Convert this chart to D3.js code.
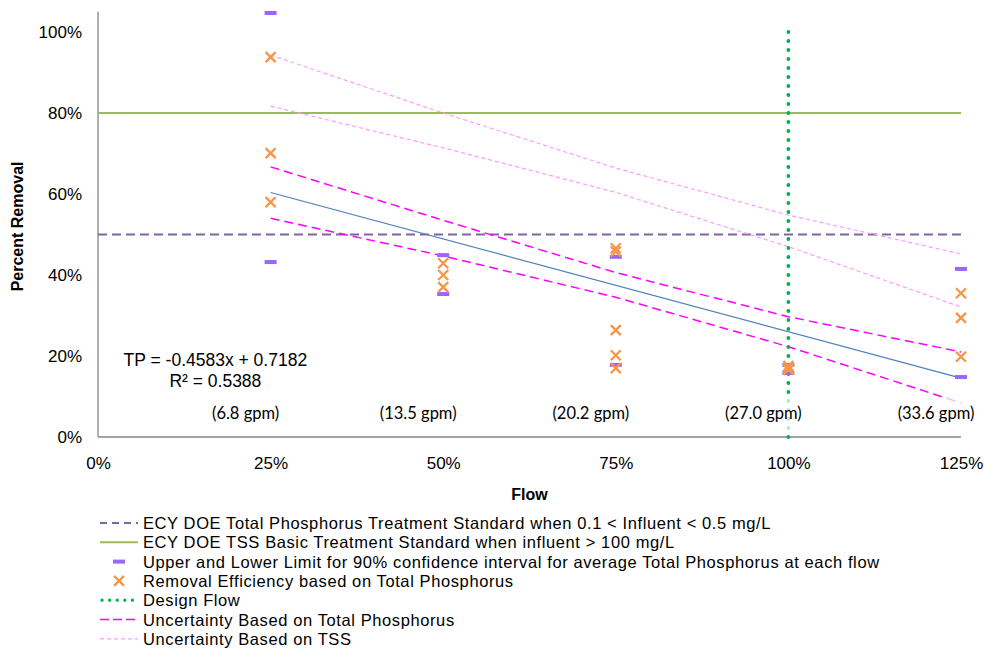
<!DOCTYPE html>
<html><head><meta charset="utf-8">
<script src="https://cdn.jsdelivr.net/npm/d3@7"></script>
<style>
body{margin:0;background:#fff;}
text{font-family:Arial,"Liberation Sans",sans-serif;fill:#000;}
</style></head>
<body><svg id="c" width="984" height="650"></svg>
<script>
// ---- data ----
const flows = [0.25, 0.5, 0.75, 1.0, 1.25];
const gpmLabels = ["(6.8 gpm)", "(13.5 gpm)", "(20.2 gpm)", "(27.0 gpm)", "(33.6 gpm)"];
const xTicks = [0, 0.25, 0.5, 0.75, 1.0, 1.25];
const yTicks = [0, 0.2, 0.4, 0.6, 0.8, 1.0];
const removalFlow = [0.25,0.25,0.25, 0.5,0.5,0.5, 0.75,0.75,0.75,0.75,0.75, 1,1,1, 1.25,1.25,1.25];
const removalTP   = [0.938,0.701,0.580, 0.429,0.400,0.370, 0.466,0.458,0.264,0.202,0.170, 0.175,0.170,0.166, 0.355,0.294,0.198];
const upperLimit = [1.047, 0.449, 0.445, 0.178, 0.415];
const lowerLimit = [0.432, 0.353, 0.178, 0.158, 0.148];
const tpUncUpper = [0.667, 0.535, 0.406, 0.297, 0.210];
const tpUncLower = [0.540, 0.447, 0.345, 0.223, 0.084];
const tssUncUpper = [0.943, 0.800, 0.664, 0.548, 0.452];
const tssUncLower = [0.817, 0.714, 0.604, 0.470, 0.321];
const trendSlope = -0.4583, trendIntercept = 0.7182, trendR2 = 0.5388;
const tpStandard = 0.5, tssStandard = 0.8, designFlow = 1.0;
const legendLabels = [
  "ECY DOE Total Phosphorus Treatment Standard when 0.1 < Influent < 0.5 mg/L",
  "ECY DOE TSS Basic Treatment Standard when influent > 100 mg/L",
  "Upper and Lower Limit for 90% confidence interval for average Total Phosphorus at each flow",
  "Removal Efficiency based on Total Phosphorus",
  "Design Flow",
  "Uncertainty Based on Total Phosphorus",
  "Uncertainty Based on TSS"
];

// ---- drawing ----
const svg = d3.select("#c");
const x = d3.scaleLinear().domain([0, 1.25]).range([98, 961]);
const y = d3.scaleLinear().domain([0, 1]).range([437, 32]);
const yTop = 1.05;
const pct = d3.format(".0%");

const C = {
  tpStd: "#8064A2", tssStd: "#9BBB59", bar: "#9966FF", xm: "#F79646",
  design: "#00B050", tpUnc: "#FF00FF", tssUnc: "#FF99FF", trend: "#4F81BD", axis: "#868686"
};

// axes
const yAxis = d3.axisLeft(y).tickValues(yTicks).tickFormat(pct).tickSize(0).tickPadding(16);
const gy = svg.append("g").attr("transform", `translate(${x(0)},0)`).call(yAxis);
gy.select(".domain").remove();
gy.selectAll("text").style("font-size", "17px").attr("font-family", "Arial");
const xAxis = d3.axisBottom(x).tickValues(xTicks).tickFormat(pct).tickSize(0).tickPadding(20);
const gx = svg.append("g").attr("transform", `translate(0,${y(0)})`).call(xAxis);
gx.select(".domain").remove();
gx.selectAll("text").style("font-size", "17px");

svg.append("line").attr("x1", x(0)).attr("x2", x(0)).attr("y1", y(yTop)).attr("y2", y(0))
  .attr("stroke", C.axis).attr("stroke-width", 1.3);
svg.append("line").attr("x1", x(0)).attr("x2", x(1.25)).attr("y1", y(0)).attr("y2", y(0))
  .attr("stroke", C.axis).attr("stroke-width", 1.3);

svg.append("text").attr("transform", `translate(23,${y(0.52)}) rotate(-90)`)
  .attr("text-anchor", "middle").style("font-size", "16px").style("font-weight", "bold").text("Percent Removal");
svg.append("text").attr("x", x(0.625) + 0).attr("y", 500).attr("text-anchor", "middle")
  .style("font-size", "16px").style("font-weight", "bold").text("Flow");

// horizontal standards
svg.append("line").attr("x1", x(0)).attr("x2", x(1.25)).attr("y1", y(tssStandard)).attr("y2", y(tssStandard))
  .attr("stroke", C.tssStd).attr("stroke-width", 2);
svg.append("line").attr("x1", x(0)).attr("x2", x(1.25)).attr("y1", y(tpStandard)).attr("y2", y(tpStandard))
  .attr("stroke", C.tpStd).attr("stroke-width", 1.8).attr("stroke-dasharray", "9,5");

// uncertainty bands
const line = d3.line().x(d => x(d[0])).y(d => y(d[1]));
const z = arr => flows.map((f, i) => [f, arr[i]]);
[[tssUncUpper, C.tssUnc, 1.2, "4,3"], [tssUncLower, C.tssUnc, 1.2, "4,3"],
 [tpUncUpper, C.tpUnc, 1.5, "9,5"], [tpUncLower, C.tpUnc, 1.5, "9,5"]].forEach(([arr, col, w, da]) => {
  svg.append("path").attr("d", line(z(arr))).attr("fill", "none")
    .attr("stroke", col).attr("stroke-width", w).attr("stroke-dasharray", da);
});

// trend line
svg.append("path").attr("d", line([flows[0], flows[flows.length - 1]].map(f => [f, trendSlope * f + trendIntercept])))
  .attr("fill", "none").attr("stroke", C.trend).attr("stroke-width", 1.2);

// design flow
svg.append("line").attr("x1", x(designFlow)).attr("x2", x(designFlow)).attr("y1", y(1.0)).attr("y2", y(0))
  .attr("stroke", C.design).attr("stroke-width", 3.8).attr("stroke-linecap", "round").attr("stroke-dasharray", "0.1,8.9");

// gpm labels with translucent backing
const gl = svg.append("g");
flows.forEach((f, i) => {
  gl.append("rect").attr("x", x(f) - 64).attr("y", 398).attr("width", 80).attr("height", 32)
    .attr("fill", "#fff").attr("opacity", 0.72);
  gl.append("text").attr("x", x(f) - 25).attr("y", 419).attr("text-anchor", "middle")
    .style("font-family", "Lato, 'Open Sans', sans-serif").style("font-size", "16.5px").text(gpmLabels[i]);
});

// limits bars
const barW = 12, barH = 4;
flows.forEach((f, i) => {
  [upperLimit[i], lowerLimit[i]].forEach(v => {
    svg.append("rect").attr("x", x(f) - barW / 2).attr("y", y(v) - barH / 2)
      .attr("width", barW).attr("height", barH).attr("fill", C.bar);
  });
});

// X markers
const xs = 5;
const xPath = (cx, cy) => `M${cx - xs},${cy - xs}L${cx + xs},${cy + xs}M${cx - xs},${cy + xs}L${cx + xs},${cy - xs}`;
removalTP.forEach((v, i) => {
  svg.append("path").attr("d", xPath(x(removalFlow[i]), y(v))).attr("stroke", C.xm).attr("stroke-width", 2.3).attr("fill", "none");
});

// equation
svg.append("text").attr("x", x(0.17)).attr("y", 366).attr("text-anchor", "middle").style("font-size", "17.5px")
  .text(`TP = ${trendSlope}x + ${trendIntercept}`);
svg.append("text").attr("x", x(0.17)).attr("y", 387).attr("text-anchor", "middle").style("font-size", "17.5px")
  .text(`R² = ${trendR2}`);

// legend
const lg = svg.append("g");
const ly0 = 523, ldy = 19.3, lx0 = 100, lx1 = 138, ltx = 143;
legendLabels.forEach((t, i) => {
  const yy = ly0 + i * ldy;
  if (i === 0) lg.append("line").attr("x1", lx0).attr("x2", lx1).attr("y1", yy).attr("y2", yy).attr("stroke", C.tpStd).attr("stroke-width", 1.8).attr("stroke-dasharray", "7,5");
  if (i === 1) lg.append("line").attr("x1", lx0).attr("x2", lx1).attr("y1", yy).attr("y2", yy).attr("stroke", C.tssStd).attr("stroke-width", 2);
  if (i === 2) lg.append("rect").attr("x", 119 - barW / 2).attr("y", yy - barH / 2).attr("width", barW).attr("height", barH).attr("fill", C.bar);
  if (i === 3) lg.append("path").attr("d", xPath(119, yy)).attr("stroke", C.xm).attr("stroke-width", 2.3);
  if (i === 4) lg.append("line").attr("x1", lx0 + 2).attr("x2", lx1).attr("y1", yy).attr("y2", yy).attr("stroke", C.design).attr("stroke-width", 3.2).attr("stroke-linecap", "round").attr("stroke-dasharray", "0.1,7.5");
  if (i === 5) lg.append("line").attr("x1", lx0).attr("x2", lx1).attr("y1", yy).attr("y2", yy).attr("stroke", C.tpUnc).attr("stroke-width", 1.5).attr("stroke-dasharray", "9,4");
  if (i === 6) lg.append("line").attr("x1", lx0).attr("x2", lx1).attr("y1", yy).attr("y2", yy).attr("stroke", C.tssUnc).attr("stroke-width", 1.2).attr("stroke-dasharray", "4,3");
  lg.append("text").attr("x", ltx).attr("y", yy + 6).style("font-size", "16.5px").style("letter-spacing", "0.6px").text(t);
});
</script></body></html>
